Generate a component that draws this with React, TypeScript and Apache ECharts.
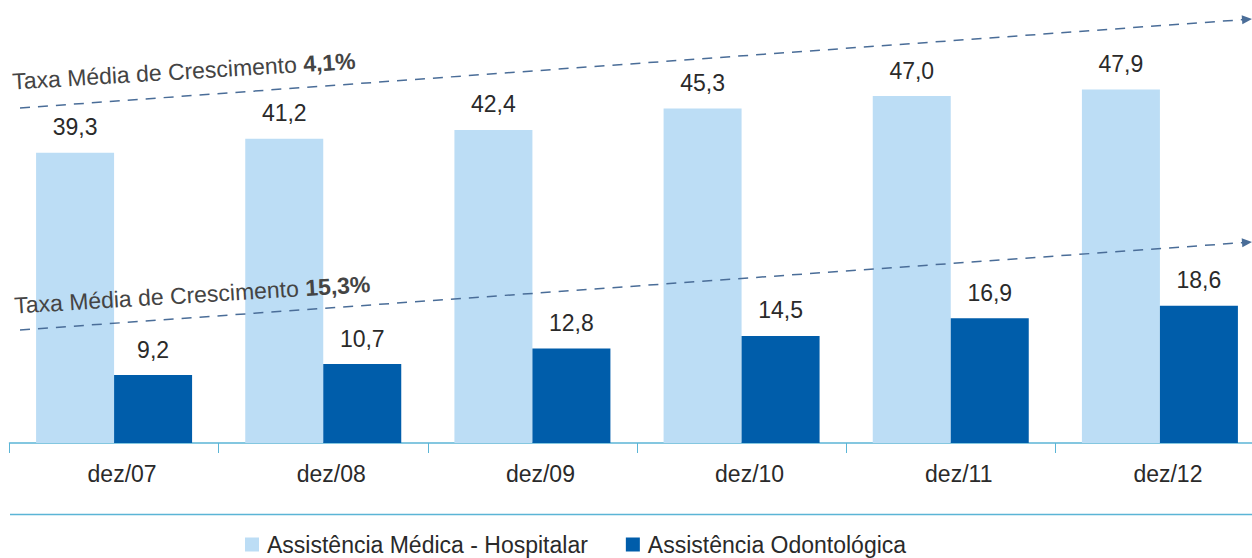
import React, { useEffect, useRef } from "react";
import * as echarts from "echarts";

const categories = ["dez/07", "dez/08", "dez/09", "dez/10", "dez/11", "dez/12"];
const medica = [39.3, 41.2, 42.4, 45.3, 47.0, 47.9];
const odonto = [9.2, 10.7, 12.8, 14.5, 16.9, 18.6];
const seriesNames = ["Assistência Médica - Hospitalar", "Assistência Odontológica"];
const trendTexts = ["4,1%", "15,3%"];

const FONT = "'Liberation Sans', Arial, Helvetica, sans-serif";
const LIGHT = "#BCDDF5";
const DARK = "#005DAA";
const AXIS = "#5BB5D6";
const DASH = "#4A6D98";
const TEXT = "#2a2a2a";

function arrowHead(x1: number, y1: number, x2: number, y2: number) {
  const ang = Math.atan2(y2 - y1, x2 - x1);
  const len = 10;
  const w = 4.5;
  const bx = x2 - len * Math.cos(ang);
  const by = y2 - len * Math.sin(ang);
  const px = -Math.sin(ang);
  const py = Math.cos(ang);
  return [
    [x2, y2],
    [bx + w * px, by + w * py],
    [bx - w * px, by - w * py],
  ];
}

export default function App() {
  const ref = useRef<HTMLDivElement>(null);
  useEffect(() => {
    document.body.style.margin = "0";
    const chart = echarts.init(ref.current!, null, { renderer: "svg" });
    const fmt = (p: any) => Number(p.value).toFixed(1).replace(".", ",");
    const lines = [
      { x1: 20, y1: 108, x2: 1252, y2: 19 },
      { x1: 20, y1: 330, x2: 1252, y2: 242 },
    ];
    const graphics: any[] = [];
    lines.forEach((l) => {
      const ang = Math.atan2(l.y2 - l.y1, l.x2 - l.x1);
      graphics.push({
        type: "line",
        z: 100,
        shape: { x1: l.x1, y1: l.y1, x2: l.x2 - 8 * Math.cos(ang), y2: l.y2 - 8 * Math.sin(ang) },
        style: { stroke: DASH, lineWidth: 1.5, lineDash: [10, 8] },
      });
      graphics.push({
        type: "polygon",
        z: 100,
        shape: { points: arrowHead(l.x1, l.y1, l.x2, l.y2) },
        style: { fill: DASH },
      });
    });
    const textPos = [
      { x: 13, y: 93 },
      { x: 15, y: 317 },
    ];
    textPos.forEach((p, i) => {
      graphics.push({
        type: "text",
        z: 100,
        x: p.x,
        y: p.y,
        rotation: 0.06,
        style: {
          text: "Taxa Média de Crescimento {b|" + trendTexts[i] + "}",
          fill: "#444",
          fontSize: 23,
          fontFamily: FONT,
          verticalAlign: "bottom",
          align: "left",
          rich: {
            b: { fontWeight: "bold", fontSize: 23, fontFamily: FONT, fill: "#444" },
          },
        },
      });
    });
    graphics.push({
      type: "line",
      shape: { x1: 10, y1: 514.5, x2: 1252, y2: 514.5 },
      style: { stroke: AXIS, lineWidth: 1.5 },
    });

    chart.setOption({
      animation: false,
      textStyle: { fontFamily: FONT },
      grid: {
        left: 9.5,
        top: 3,
        width: 1255,
        bottom: 115,
        containLabel: false,
        outerBoundsMode: "none",
      },
      legend: {
        left: 245,
        top: 533,
        padding: 0,
        itemWidth: 14,
        itemHeight: 14,
        itemGap: 38,
        icon: "rect",
        textStyle: { fontSize: 23, color: TEXT, fontFamily: FONT, padding: [0, 0, 0, 3] },
        data: seriesNames,
      },
      xAxis: {
        type: "category",
        data: categories,
        axisLine: { lineStyle: { color: AXIS, width: 1.5 } },
        axisTick: { show: true, length: 10, lineStyle: { color: AXIS, width: 1 } },
        axisLabel: {
          fontSize: 23,
          color: TEXT,
          margin: 19,
          fontFamily: FONT,
          padding: [0, 0, 0, 16],
        },
      },
      yAxis: {
        type: "value",
        min: 0,
        max: 59.6,
        show: false,
        splitLine: { show: false },
      },
      series: [
        {
          name: seriesNames[0],
          type: "bar",
          data: medica,
          barWidth: 78,
          barGap: "0%",
          itemStyle: { color: LIGHT },
          label: {
            show: true,
            position: "top",
            distance: 14,
            fontSize: 23,
            color: TEXT,
            fontFamily: FONT,
            formatter: fmt,
          },
        },
        {
          name: seriesNames[1],
          type: "bar",
          data: odonto,
          barWidth: 78,
          barGap: "0%",
          itemStyle: { color: DARK },
          label: {
            show: true,
            position: "top",
            distance: 14,
            fontSize: 23,
            color: TEXT,
            fontFamily: FONT,
            formatter: fmt,
          },
        },
      ],
      graphic: graphics,
    });
    return () => chart.dispose();
  }, []);
  return <div ref={ref} style={{ width: 1252, height: 558 }} />;
}
